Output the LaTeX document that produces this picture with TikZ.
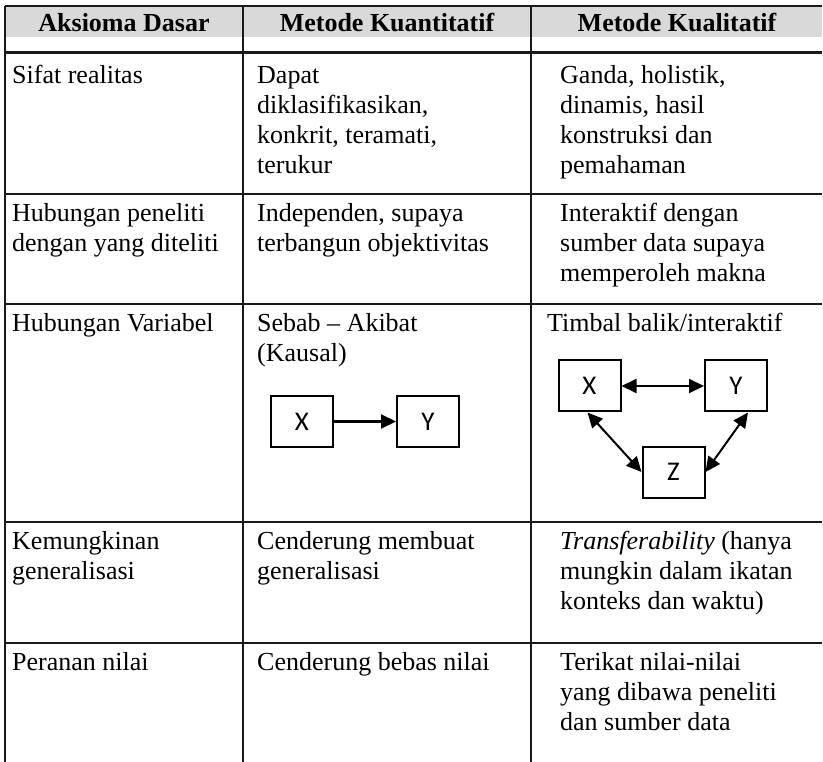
\documentclass[tikz,border=0pt]{standalone}
\usepackage{fontspec}
\setmainfont{Liberation Serif}
\newfontfamily\boxfont{Carlito}
\usetikzlibrary{arrows.meta}
\definecolor{hdrgray}{RGB}{217,217,217}
\tikzset{
  tbl/.style={line width=2pt, draw=black!90},
  tblthick/.style={line width=3pt, draw=black!90},
  cell/.style={anchor=north west, inner sep=0pt, align=left, font=\fontsize{26}{30}\selectfont},
  hdrtxt/.style={anchor=base, inner sep=0pt, font=\bfseries\fontsize{26}{30}\selectfont},
  vbox/.style={draw, line width=2pt, minimum width=62pt, minimum height=51pt, inner sep=0pt, font=\boxfont\fontsize{27}{30}\selectfont},
  arr/.style={line width=2pt},
  tip/.tip={Triangle[length=15pt,width=14pt]}
}
\newcommand{\lbl}[1]{\raisebox{-5pt}{#1}}
\begin{document}
\begin{tikzpicture}[x=1pt,y=-1pt]
\useasboundingbox (0,0) rectangle (823,762);
% header
\fill[hdrgray] (5,6) rectangle (822,37);
\draw[tbl] (5,6) -- (822,6);
\draw[tblthick] (5,53) -- (822,53);
\foreach \yy in {194,304,522,643} \draw[tbl] (5,\yy) -- (822,\yy);
\foreach \xx in {5,243,531} \draw[tbl] (\xx,6) -- (\xx,762);
\node[hdrtxt] (h1) at (124,32) {Aksioma Dasar};
\node[hdrtxt] (h2) at (387,32) {Metode Kuantitatif};
\node[hdrtxt] (h3) at (677,32) {Metode Kualitatif};
% row 1
\node[cell] (a1) at (12,62) {\strut Sifat realitas};
\node[cell] (b1) at (257,62) {\strut Dapat\\diklasifikasikan,\\konkrit, teramati,\\terukur};
\node[cell] (c1) at (560,62) {\strut Ganda, holistik,\\dinamis, hasil\\konstruksi dan\\pemahaman};
% row 2
\node[cell] (a2) at (12,200) {\strut Hubungan peneliti\\dengan yang diteliti};
\node[cell] (b2) at (257,200) {\strut Independen, supaya\\terbangun objektivitas};
\node[cell] (c2) at (560,200) {\strut Interaktif dengan\\sumber data supaya\\memperoleh makna};
% row 3
\node[cell] (a3) at (12,310) {\strut Hubungan Variabel};
\node[cell] (b3) at (257,310) {\strut Sebab -- Akibat\\(Kausal)};
\node[cell] (c3) at (547,310) {\strut Timbal balik/interaktif};
% row 4
\node[cell] (a4) at (12,528) {\strut Kemungkinan\\generalisasi};
\node[cell] (b4) at (257,528) {\strut Cenderung membuat\\generalisasi};
\node[cell] (c4) at (560,528) {\strut \textit{Transferability} (hanya\\mungkin dalam ikatan\\konteks dan waktu)};
% row 5
\node[cell] (a5) at (12,649) {\strut Peranan nilai};
\node[cell] (b5) at (257,649) {\strut Cenderung bebas nilai};
\node[cell] (c5) at (560,649) {\strut Terikat nilai-nilai\\yang dibawa peneliti\\dan sumber data};
% quantitative diagram
\node[vbox] (qx) at (302,421.5) {\lbl{X}};
\node[vbox] (qy) at (428,421.5) {\lbl{Y}};
\draw[arr,-tip] (qx) -- (qy);
% qualitative diagram
\node[vbox] (kx) at (589.5,386) {\lbl{X}};
\node[vbox] (ky) at (736,386) {\lbl{Y}};
\node[vbox] (kz) at (673.5,472) {\lbl{Z}};
\draw[arr,tip-tip] (kx) -- (ky);
\draw[arr,tip-tip] ([xshift=-2pt]kx.south) -- (kz.west);
\draw[arr,tip-tip] ([xshift=12pt]ky.south) -- (kz.east);
\end{tikzpicture}
\end{document}
